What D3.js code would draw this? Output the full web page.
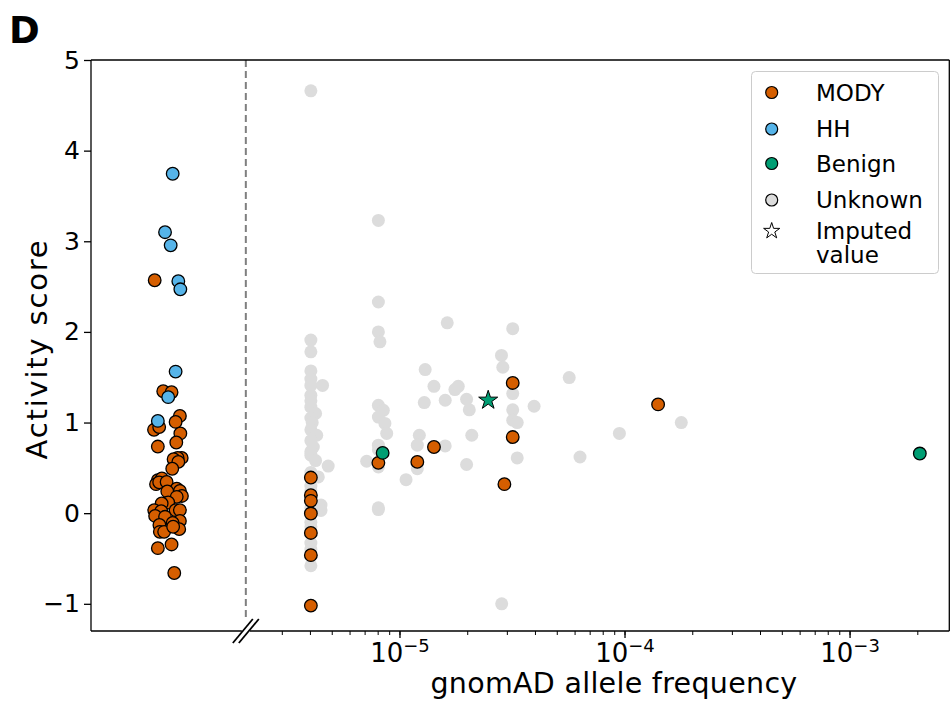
<!DOCTYPE html>
<html>
<head>
    <title></title>
    <meta charset="utf-8" />
    <script src="https://d3js.org/d3.v7.min.js"></script>
    <style>
        body { margin: 0; background: #fff; }
        text { font-family: "DejaVu Sans", sans-serif; fill: #000; }
    </style>
</head>
<body>
    <script>
        // points are [log10 allele frequency, activity score]
        // variants absent from gnomAD sit left of the break, jittered round 10^-6
        var mody = [
            [-6.090, 2.57], [-6.052, 1.345], [-6.015, 1.334], [-5.978, 1.073], [-5.997, 1.007],
            [-6.093, 0.92], [-6.070, 0.95], [-5.976, 0.88], [-5.994, 0.78], [-6.076, 0.735],
            [-5.970, 0.61], [-5.988, 0.61], [-6.006, 0.595], [-5.985, 0.566], [-6.012, 0.49],
            [-6.076, 0.364], [-6.058, 0.383], [-6.084, 0.32], [-6.070, 0.34], [-6.037, 0.345],
            [-5.992, 0.27], [-5.978, 0.245], [-6.034, 0.24], [-5.969, 0.19], [-5.992, 0.18],
            [-6.030, 0.118], [-6.059, 0.107], [-6.092, 0.033], [-6.061, 0.022], [-5.997, 0.033],
            [-5.978, 0.033], [-6.088, -0.03], [-6.044, -0.04], [-5.978, -0.085], [-6.010, -0.107],
            [-6.069, -0.13], [-6.067, -0.206], [-6.048, -0.206], [-5.981, -0.176], [-6.008, -0.15],
            [-6.076, -0.386], [-6.015, -0.345], [-6.003, -0.66],
            [-5.396, 0.393], [-5.396, 0.198], [-5.396, 0.136], [-5.396, -0.004], [-5.396, -0.218],
            [-5.396, -0.463], [-5.396, -1.02],
            [-5.096, 0.555], [-4.923, 0.566], [-4.849, 0.73], [-4.536, 0.32], [-4.499, 1.437],
            [-4.499, 0.84], [-3.853, 1.20]
        ];
        var hh = [
            [-6.010, 3.745], [-6.044, 3.10], [-6.019, 2.955], [-5.985, 2.56], [-5.976, 2.47],
            [-5.997, 1.562], [-6.030, 1.28], [-6.076, 1.018]
        ];
        var benign = [[-5.077, 0.665], [-2.690, 0.658]];
        var imputed = [[-4.608, 1.246]];
        var unknown = [
            [-5.396, 4.66], [-5.396, 1.91], [-5.396, 1.78], [-5.396, 1.57], [-5.396, 1.48],
            [-5.396, 1.41], [-5.344, 1.41], [-5.396, 1.30], [-5.396, 1.24], [-5.396, 1.17],
            [-5.375, 1.10], [-5.396, 1.05], [-5.390, 1.00], [-5.396, 0.92], [-5.370, 0.86],
            [-5.396, 0.80], [-5.385, 0.73], [-5.396, 0.68], [-5.396, 0.64], [-5.375, 0.58],
            [-5.319, 0.52], [-5.363, 0.40], [-5.396, 0.45], [-5.396, 0.30], [-5.396, 0.25],
            [-5.351, 0.09], [-5.351, 0.03], [-5.396, 0.06], [-5.396, -0.10], [-5.396, -0.15],
            [-5.396, -0.33], [-5.396, -0.40], [-5.396, -0.58],
            [-5.096, 3.23], [-5.096, 2.33], [-5.096, 2.00], [-5.089, 1.89], [-5.096, 1.19],
            [-5.074, 1.135], [-5.096, 1.06], [-5.067, 0.99], [-5.059, 0.88], [-5.096, 0.75],
            [-5.096, 0.70], [-5.148, 0.573], [-5.096, 0.51], [-5.096, 0.04], [-5.096, 0.06],
            [-4.973, 0.37], [-4.914, 0.86], [-4.923, 0.75], [-4.923, 0.49], [-4.892, 1.22],
            [-4.888, 1.584], [-4.849, 1.40], [-4.799, 1.246], [-4.799, 0.742], [-4.790, 2.10],
            [-4.756, 1.364], [-4.741, 1.40], [-4.704, 1.257], [-4.704, 0.537], [-4.692, 1.14],
            [-4.681, 0.86], [-4.549, 1.74], [-4.543, 1.61], [-4.548, -1.00], [-4.499, 2.036],
            [-4.499, 1.32], [-4.499, 1.14], [-4.499, 1.025], [-4.479, 1.00], [-4.479, 0.61],
            [-4.404, 1.18], [-4.248, 1.496], [-4.200, 0.62], [-4.025, 0.88], [-3.750, 1.00]
        ];
        var yTicks = [-1, 0, 1, 2, 3, 4, 5];
        var xTickExps = [-5, -4, -3];
        var legendLabels = ["MODY", "HH", "Benign", "Unknown", "Imputed"];

        var width = 952,
            height = 706,
            plotLeft = 91,
            plotRight = 949.3,
            plotTop = 60,
            plotBottom = 631,
            breakAF = Math.pow(10, -5.685);

        var colors = { MODY: "#d55e00", HH: "#56b4e9", Benign: "#009e73", Unknown: "#dcdcdc" };

        var svg = d3.select("body").append("svg")
            .attr("width", width)
            .attr("height", height);

        var x = d3.scaleLog()
            .domain([Math.pow(10, -6.373), Math.pow(10, -2.559)])
            .range([plotLeft, plotRight]);
        var y = d3.scaleLinear()
            .domain([-1.3, 5])
            .range([plotBottom, plotTop]);

        function px(d) { return x(Math.pow(10, d[0])); }
        function py(d) { return y(d[1]); }

        // star path like matplotlib's "*" marker
        function starPath(r) {
            var pts = [];
            for (var i = 0; i < 10; i++) {
                var rr = i % 2 === 0 ? r : r * 0.382;
                var a = -Math.PI / 2 + i * Math.PI / 5;
                pts.push([rr * Math.cos(a), rr * Math.sin(a)]);
            }
            return "M" + pts.join("L") + "Z";
        }

        var bx = x(breakAF);

        // dashed separator for absent variants
        svg.append("line")
            .attr("x1", bx).attr("x2", bx)
            .attr("y1", plotTop).attr("y2", plotBottom - 11)
            .attr("stroke", "#7f7f7f")
            .attr("stroke-width", 2)
            .attr("stroke-dasharray", "7,4");

        var plot = svg.append("g");

        plot.selectAll("circle.unknown").data(unknown).enter().append("circle")
            .attr("class", "unknown")
            .attr("cx", px).attr("cy", py).attr("r", 6.5)
            .attr("fill", colors.Unknown);

        function dots(data, color) {
            plot.selectAll(null).data(data).enter().append("circle")
                .attr("cx", px).attr("cy", py).attr("r", 6.3)
                .attr("fill", color)
                .attr("stroke", "#000")
                .attr("stroke-width", 1.3);
        }
        dots(mody, colors.MODY);
        dots(hh, colors.HH);
        dots(benign, colors.Benign);

        plot.selectAll(null).data(imputed).enter().append("path")
            .attr("d", starPath(10))
            .attr("transform", function (d) { return "translate(" + px(d) + "," + py(d) + ")"; })
            .attr("fill", colors.Benign)
            .attr("stroke", "#000")
            .attr("stroke-width", 1);

        // frame
        function spine(x1, y1, x2, y2) {
            svg.append("line").attr("x1", x1).attr("y1", y1).attr("x2", x2).attr("y2", y2)
                .attr("stroke", "#000").attr("stroke-width", 1.3);
        }
        spine(plotLeft, plotTop, plotRight, plotTop);
        spine(plotRight, plotTop, plotRight, plotBottom);
        spine(plotLeft, plotTop, plotLeft, plotBottom);
        spine(plotLeft, plotBottom, bx - 4, plotBottom);
        spine(bx + 4, plotBottom, plotRight, plotBottom);
        [-3, 3].forEach(function (o) {
            svg.append("line")
                .attr("x1", bx + o - 10).attr("y1", plotBottom + 12)
                .attr("x2", bx + o + 10).attr("y2", plotBottom - 12)
                .attr("stroke", "#000").attr("stroke-width", 1.8);
        });

        // y axis
        var yAxis = svg.append("g")
            .attr("transform", "translate(" + plotLeft + ",0)")
            .call(d3.axisLeft(y).tickValues(yTicks).tickSize(7).tickPadding(4)
                .tickFormat(function (d) { return d < 0 ? "\u2212" + Math.abs(d) : d; }));
        yAxis.select(".domain").remove();
        yAxis.selectAll("line").attr("stroke-width", 1.3);
        yAxis.selectAll("text").attr("font-size", 25).attr("font-family", "DejaVu Sans");

        // x axis: major and minor ticks right of the break
        var minor = [];
        x.ticks().forEach(function (t) { if (t > breakAF * 1.2) minor.push(t); });
        var major = xTickExps.map(function (e) { return Math.pow(10, e); });
        var xg = svg.append("g").attr("transform", "translate(0," + plotBottom + ")");
        xg.selectAll("line.minor").data(minor).enter().append("line")
            .attr("x1", function (d) { return x(d); }).attr("x2", function (d) { return x(d); })
            .attr("y1", 0).attr("y2", 4)
            .attr("stroke", "#000").attr("stroke-width", 1);
        xg.selectAll("line.major").data(major).enter().append("line")
            .attr("x1", function (d) { return x(d); }).attr("x2", function (d) { return x(d); })
            .attr("y1", 0).attr("y2", 7)
            .attr("stroke", "#000").attr("stroke-width", 1.3);
        var lbl = xg.selectAll("text.tick").data(xTickExps).enter().append("text")
            .attr("x", function (d) { return x(Math.pow(10, d)); })
            .attr("y", 31)
            .attr("text-anchor", "middle")
            .attr("font-size", 26);
        lbl.append("tspan").text("10");
        lbl.append("tspan").attr("font-size", 18).attr("dy", -10)
            .text(function (d) { return "\u2212" + Math.abs(d); });

        // axis titles
        svg.append("text")
            .attr("x", 614).attr("y", 693)
            .attr("text-anchor", "middle")
            .attr("font-size", 28.5)
            .attr("letter-spacing", 0.3)
            .text("gnomAD allele frequency");
        svg.append("text")
            .attr("transform", "translate(47,349) rotate(-90)")
            .attr("text-anchor", "middle")
            .attr("font-size", 29)
            .attr("letter-spacing", 1.8)
            .text("Activity score");

        svg.append("text")
            .attr("x", 9).attr("y", 43)
            .attr("font-size", 37)
            .attr("font-weight", "bold")
            .text("D");

        // legend
        var lg = svg.append("g");
        lg.append("rect")
            .attr("x", 751.5).attr("y", 71.5).attr("width", 187).attr("height", 202)
            .attr("rx", 4)
            .attr("fill", "#fff").attr("fill-opacity", 0.8)
            .attr("stroke", "#cccccc").attr("stroke-width", 1);
        var rowY = [92.5, 129, 163.5, 200, 231];
        var legColors = [colors.MODY, colors.HH, colors.Benign, colors.Unknown];
        legendLabels.forEach(function (name, i) {
            if (i < 4) {
                lg.append("circle")
                    .attr("cx", 771.7).attr("cy", rowY[i]).attr("r", 6)
                    .attr("fill", legColors[i])
                    .attr("stroke", "#000").attr("stroke-width", 1.2);
            } else {
                lg.append("path")
                    .attr("d", starPath(8.5))
                    .attr("transform", "translate(771.7," + rowY[i] + ")")
                    .attr("fill", "#fff")
                    .attr("stroke", "#000").attr("stroke-width", 1);
            }
            lg.append("text")
                .attr("x", 816).attr("y", rowY[i])
                .attr("dy", "0.36em")
                .attr("font-size", 23)
                .text(name);
        });
        lg.append("text")
            .attr("x", 816).attr("y", 255)
            .attr("dy", "0.36em")
            .attr("font-size", 23)
            .text("value");
    </script>
</body>
</html>
